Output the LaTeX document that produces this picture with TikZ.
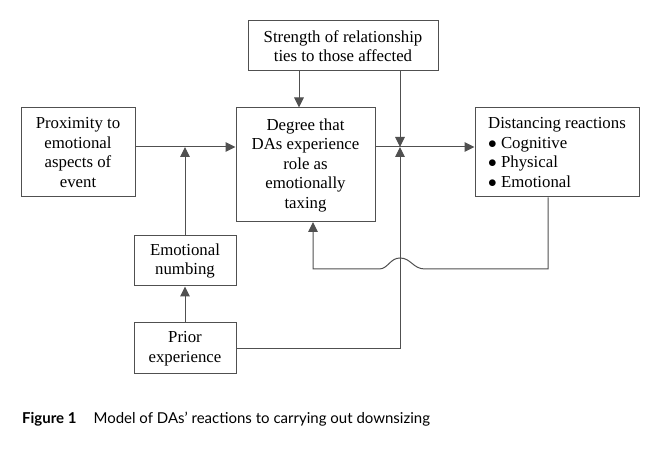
\documentclass[tikz,border=0pt]{standalone}
\usepackage{fontspec}
\setmainfont{Liberation Serif}
\newfontfamily\capfont{Lato}
\usepackage{tikz}
\usetikzlibrary{positioning,calc,arrows.meta}
\definecolor{linegray}{HTML}{505050}

\tikzset{
  box/.style={draw=linegray, line width=1pt, rectangle, align=center, inner sep=2pt,
              font=\fontsize{16.8}{19.5}\selectfont},
  arr/.style={draw=linegray, line width=1pt, -{Triangle[length=10pt,width=9.5pt]}},
  link/.style={draw=linegray, line width=1pt}
}

\begin{document}
\begin{tikzpicture}[x=1pt, y=-1pt]
    \useasboundingbox (0,0) rectangle (662,449);
    % BOXES
    \node[box, minimum width=114pt, minimum height=89pt] (prox) at (78,152.5)
        {Proximity to\\emotional\\aspects of\\event};
    \node[box, minimum width=139pt, minimum height=114pt] (degree) at (305.5,165)
        {Degree that\\DAs experience\\role as\\emotionally\\taxing};
    \node[box, minimum width=190pt, minimum height=50pt] (strength) at (343,46)
        {Strength of relationship\\ties to those affected};
    \node[box, minimum width=164pt, minimum height=89pt, align=left] (dist) at (557,152.5)
        {Distancing reactions\\$\bullet$ Cognitive\\$\bullet$ Physical\\$\bullet$ Emotional};
    \node[box, minimum width=102pt, minimum height=50pt] (numb) at (185,261)
        {Emotional\\numbing};
    \node[box, minimum width=102pt, minimum height=51pt] (prior) at (185,348.5)
        {Prior\\experience};
    % JUNCTIONS
    \coordinate (j1) at (185,147);
    \coordinate (j2) at (400,147);
    % MAIN FLOW
    \draw[arr] (prox.east |- j1) -- (degree.west |- j1);
    \draw[arr] (degree.east |- j2) -- (dist.west |- j2);
    \draw[arr] ([xshift=-6.5pt]degree.north |- strength.south) -- ([xshift=-6.5pt]degree.north);
    % MODERATORS
    \draw[arr] (numb.north) -- (j1);
    \draw[arr] (prior.north) -- (numb.south);
    \draw[arr] (strength.south -| j2) -- (j2);
    \draw[arr] (prior.east) -- (prior.east -| j2) -- (j2);
    % FEEDBACK WITH HOP
    \coordinate (fb) at ([xshift=-9pt]dist.south);
    \coordinate (hopR) at (425,269);
    \coordinate (hopL) at (379,269);
    \draw[arr] (fb) -- (fb |- hopR) -- (hopR)
        .. controls (413,269) and (411,258) .. (400,258)
        .. controls (390,258) and (388,269) .. (hopL)
        -- (313,269) -- (313,222);
    % CAPTION
    \node[anchor=base west, inner sep=0pt, font=\capfont\fontsize{15}{18}\selectfont] (cap) at (22,423)
        {\textbf{Figure 1}\hspace{17pt}Model of DAs’ reactions to carrying out downsizing};
\end{tikzpicture}
\end{document}
